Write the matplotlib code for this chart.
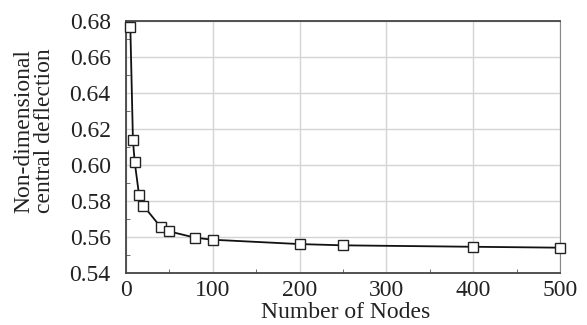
import matplotlib
matplotlib.use('Agg')
import matplotlib.pyplot as plt
from matplotlib.ticker import MultipleLocator

# Данные: число узлов и безразмерный прогиб в центре
nodes = [5, 8, 10, 15, 20, 40, 50, 80, 100, 200, 250, 400, 500]
deflection = [0.6763, 0.6137, 0.6017, 0.5836, 0.5775, 0.5656, 0.5632,
              0.5597, 0.5586, 0.5562, 0.5555, 0.5547, 0.5542]

plt.rcParams['font.family'] = ['Liberation Serif', 'DejaVu Serif']

fig = plt.figure(figsize=(5.87, 3.25), dpi=100)
ax = fig.add_axes([126 / 587, 1 - 273.3 / 325, (560 - 126) / 587, (273.3 - 20.7) / 325])

ax.plot(nodes, deflection, '-', color='#111111', lw=1.3, marker='s', ms=7,
        mfc='white', mec='#222222', mew=1.0, zorder=3, clip_on=False)

ax.set_xlim(0, 500)
ax.set_ylim(0.54, 0.68)
ax.xaxis.set_major_locator(MultipleLocator(100))
ax.xaxis.set_minor_locator(MultipleLocator(50))
ax.yaxis.set_major_locator(MultipleLocator(0.02))
ax.yaxis.set_minor_locator(MultipleLocator(0.01))
ax.yaxis.set_major_formatter(plt.FormatStrFormatter('%.2f'))

ax.grid(True, which='major', color='#d4d4d4', lw=1.0)
ax.tick_params(which='both', direction='in', colors='#555555', labelcolor='#222222',
               labelsize=17)
ax.tick_params(which='major', length=0)
ax.tick_params(which='minor', length=3)
ax.tick_params(axis='y', pad=11)
ax.tick_params(axis='x', pad=5)
for side in ['left', 'bottom', 'top']:
    ax.spines[side].set_color('#444444')
    ax.spines[side].set_linewidth(1.3)
ax.spines['right'].set_color('#888888')

fig.text(346 / 587, 1 - 312 / 325, 'Number of Nodes', fontsize=17, color='#222222',
         ha='center', va='center')
fig.text(34 / 587, 1 - 131 / 325, 'Non-dimensional\ncentral deflection', fontsize=17,
         color='#222222', rotation=90, ha='center', va='center', multialignment='center',
         linespacing=1.0)

fig.savefig('out.png', dpi=100)
